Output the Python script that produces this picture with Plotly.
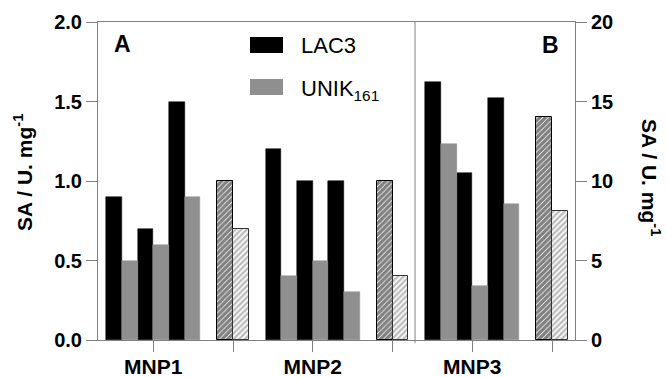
import plotly.graph_objects as go

# ---------------- data ----------------
categories = ["MNP1", "MNP2", "MNP3"]
# three replicate pairs per category (solid bars)
lac3_solid = [[0.9, 0.7, 1.5], [1.2, 1.0, 1.0], [16.25, 10.5, 15.2]]
unik_solid = [[0.5, 0.6, 0.9], [0.4, 0.5, 0.3], [12.3, 3.4, 8.55]]
# hatched pair per category
lac3_hatch = [1.0, 1.0, 14.0]
unik_hatch = [0.7, 0.4, 8.1]
left_ticks = [0.0, 0.5, 1.0, 1.5, 2.0]
right_ticks = [0, 5, 10, 15, 20]
series_names = ["LAC3", "UNIK<sub>161</sub>"]
panel_labels = ["A", "B"]

# ---------------- style ----------------
BLACK = "#000000"
GRAY = "#8f8f8f"
AXC = "#808080"
FONT = "Liberation Sans, Arial, sans-serif"
W = 0.197  # bar width in tick-spacing units

# pixel geometry of plot area
L, R, T, B = 98, 575, 22, 340
def px(x):
    return (x - L) / (R - L)
def py(y):
    return (B - y) / (B - T)

fig = go.Figure()

for gi, cat in enumerate(categories):
    yax = "y2" if gi == 2 else "y"
    c = 2 * gi
    xs_black = [c + (-2.5 + 2 * k) * W for k in range(3)]
    xs_gray = [c + (-1.5 + 2 * k) * W for k in range(3)]
    fig.add_trace(go.Bar(x=xs_black, y=lac3_solid[gi], width=[W] * 3, yaxis=yax,
                         marker=dict(color=BLACK, line=dict(color=BLACK, width=0.5)),
                         showlegend=False))
    fig.add_trace(go.Bar(x=xs_gray, y=unik_solid[gi], width=[W] * 3, yaxis=yax,
                         marker=dict(color=GRAY, line=dict(color=GRAY, width=0.5)),
                         showlegend=False))
    h = c + 1
    fig.add_trace(go.Bar(x=[h - 0.5 * W], y=[lac3_hatch[gi]], width=[W], yaxis=yax,
                         marker=dict(color="white",
                                     pattern=dict(shape="/", fgcolor=BLACK, bgcolor="white",
                                                  size=4, solidity=0.8),
                                     line=dict(color=BLACK, width=1)),
                         showlegend=False))
    fig.add_trace(go.Bar(x=[h + 0.5 * W], y=[unik_hatch[gi]], width=[W], yaxis=yax,
                         marker=dict(color="white",
                                     pattern=dict(shape="/", fgcolor="#7a7a7a", bgcolor="white",
                                                  size=4, solidity=0.6),
                                     line=dict(color="#333333", width=1)),
                         showlegend=False))

x0 = -0.693
x1 = 5.288
tickvals = list(range(6))
ticktext = []
for i in range(6):
    ticktext.append(categories[i // 2] if i % 2 == 0 else "")

fig.update_layout(
    width=667, height=377,
    margin=dict(l=L, r=667 - R, t=T, b=377 - B, autoexpand=False),
    plot_bgcolor="white", paper_bgcolor="white",
    barmode="overlay", bargap=0,
    font=dict(family=FONT, color="black"),
    xaxis=dict(range=[x0, x1], tickvals=tickvals, ticktext=ticktext, automargin=False,
               ticks="outside", ticklen=11, tickcolor=AXC, tickwidth=1,
               ticklabelstandoff=-3,
               showline=True, linecolor=AXC, linewidth=1, mirror=True,
               showgrid=False, zeroline=False,
               tickfont=dict(size=21, weight="bold", family=FONT, color="black")),
    yaxis=dict(range=[0, 2], tickvals=left_ticks, tickformat=".1f", automargin=False,
               ticks="outside", ticklen=11, tickcolor=AXC, tickwidth=1,
               showline=True, linecolor=AXC, linewidth=1,
               showgrid=False, zeroline=False,
               tickfont=dict(size=20, weight="bold", family=FONT, color="black")),
    yaxis2=dict(range=[0, 20], tickvals=right_ticks, overlaying="y", side="right",
                automargin=False,
                ticks="outside", ticklen=11, tickcolor=AXC, tickwidth=1,
                showline=True, linecolor=AXC, linewidth=1,
                showgrid=False, zeroline=False,
                tickfont=dict(size=20, weight="bold", family=FONT, color="black")),
)

# divider between panels A and B
xdiv = (415 - 153.3) / 79.74
fig.add_shape(type="line", xref="x", yref="paper", x0=xdiv, x1=xdiv, y0=-0.01, y1=1,
              line=dict(color=AXC, width=1))

# axis titles
title = "SA / U. mg<sup>-1</sup>"
fig.add_annotation(text=title, xref="paper", yref="paper", x=px(23), y=py(173),
                   textangle=-90, showarrow=False, xanchor="center", yanchor="middle",
                   font=dict(size=21, weight="bold", family=FONT, color="black"))
fig.add_annotation(text=title, xref="paper", yref="paper", x=px(651), y=py(177),
                   textangle=90, showarrow=False, xanchor="center", yanchor="middle",
                   font=dict(size=21, weight="bold", family=FONT, color="black"))

# panel letters
fig.add_annotation(text=panel_labels[0], xref="paper", yref="paper", x=px(122.5), y=py(44),
                   showarrow=False, xanchor="center", yanchor="middle",
                   font=dict(size=23, weight="bold", family=FONT, color="black"))
fig.add_annotation(text=panel_labels[1], xref="paper", yref="paper", x=px(550), y=py(45),
                   showarrow=False, xanchor="center", yanchor="middle",
                   font=dict(size=23, weight="bold", family=FONT, color="black"))

# legend (drawn manually)
for i, (col, yc) in enumerate([(BLACK, 45), (GRAY, 87)]):
    fig.add_shape(type="rect", xref="paper", yref="paper",
                  x0=px(250), x1=px(283), y0=py(yc - 8), y1=py(yc + 8),
                  fillcolor=col, line=dict(width=0))
fig.add_annotation(text=series_names[0], xref="paper", yref="paper", x=px(299), y=py(45),
                   showarrow=False, xanchor="left", yanchor="middle",
                   font=dict(size=22, family=FONT, color="black"))
fig.add_annotation(text=series_names[1], xref="paper", yref="paper", x=px(299), y=py(90),
                   showarrow=False, xanchor="left", yanchor="middle",
                   font=dict(size=22, family=FONT, color="black"))

fig.write_html("out.html", config={"displayModeBar": False},
               post_script="document.body.style.margin='0px';document.body.style.overflow='hidden';")
